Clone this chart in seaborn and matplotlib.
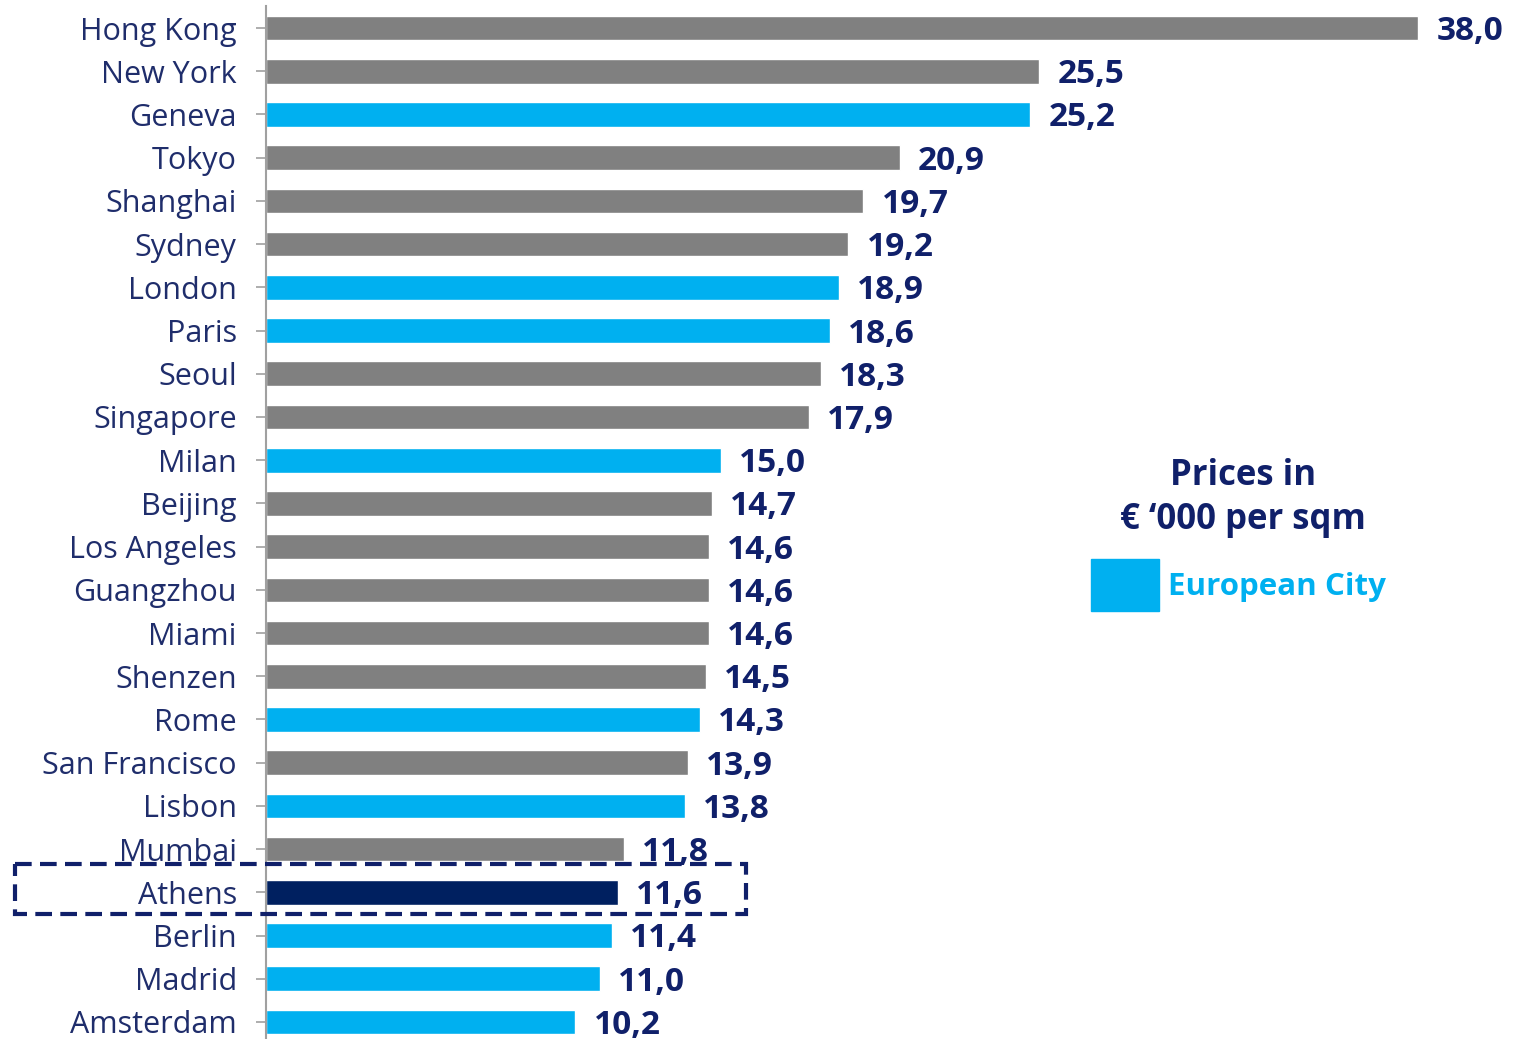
import matplotlib
matplotlib.use("Agg")
import matplotlib.pyplot as plt
import matplotlib.patches as mpatches
import seaborn as sns
import pandas as pd

cities = ["Hong Kong", "New York", "Geneva", "Tokyo", "Shanghai", "Sydney",
          "London", "Paris", "Seoul", "Singapore", "Milan", "Beijing",
          "Los Angeles", "Guangzhou", "Miami", "Shenzen", "Rome",
          "San Francisco", "Lisbon", "Mumbai", "Athens", "Berlin", "Madrid",
          "Amsterdam"]
prices = [38.0, 25.5, 25.2, 20.9, 19.7, 19.2, 18.9, 18.6, 18.3, 17.9, 15.0,
          14.7, 14.6, 14.6, 14.6, 14.5, 14.3, 13.9, 13.8, 11.8, 11.6, 11.4,
          11.0, 10.2]
group = ["other", "other", "europe", "other", "other", "other", "europe",
         "europe", "other", "other", "europe", "other", "other", "other",
         "other", "other", "europe", "other", "europe", "other", "athens",
         "europe", "europe", "europe"]

GREY = "#808080"
BLUE = "#00B0F0"
DARK = "#002060"
NAVY = "#10206A"
LABEL = "#1F2D6B"
group_colors = {"other": GREY, "europe": BLUE, "athens": DARK}

df = pd.DataFrame({"city": cities, "price": prices, "group": group})

sns.set_style("white")
plt.rcParams["font.family"] = ["Open Sans", "DejaVu Sans"]

fig = plt.figure(figsize=(15.32, 10.39), dpi=100)
ax = fig.add_axes([0.1736, -0.0044, 0.9655 - 0.1736, 0.9938 + 0.0044])

palette = {c: group_colors[g] for c, g in zip(cities, group)}
sns.barplot(data=df, x="price", y="city", hue="city", palette=palette,
            legend=False, width=0.57, orient="h", saturation=1, ax=ax)

ax.set_xlim(0, 40)
ax.set_ylim(23.5, -0.5)
ax.set_xlabel("")
ax.set_ylabel("")
ax.set_xticks([])
for s in ["top", "right", "bottom"]:
    ax.spines[s].set_visible(False)
ax.spines["left"].set_color("#A0A0A0")
ax.spines["left"].set_linewidth(1.5)
ax.tick_params(axis="y", left=True, direction="out", length=7, width=1.2,
               color="#A0A0A0", labelsize=22, labelcolor=LABEL, pad=14)

# value labels
for i, v in enumerate(prices):
    ax.text(v + 0.6, i + 0.08, f"{v:.1f}".replace(".", ","), va="center",
            ha="left", fontsize=24, fontweight="bold", color=NAVY)

# dashed box around Athens
idx = cities.index("Athens")
rect = mpatches.Rectangle((-8.28, idx - 0.66), 15.83 + 8.28, 1.16,
                          fill=False, edgecolor=NAVY, linewidth=3,
                          linestyle=(0, (4, 2)), clip_on=False, zorder=5)
ax.add_patch(rect)

# legend
fig.text(1243 / 1532, 1 - 476 / 1039, "Prices in", ha="center", va="center",
         fontsize=25, fontweight="bold", color=NAVY)
fig.text(1243 / 1532, 1 - 520 / 1039, "\u20ac \u2018000 per sqm", ha="center",
         va="center", fontsize=25, fontweight="bold", color=NAVY)
fig.patches.append(mpatches.Rectangle((1091 / 1532, 1 - 611 / 1039),
                                      68 / 1532, 52 / 1039, color=BLUE,
                                      transform=fig.transFigure, figure=fig))
fig.text(1168 / 1532, 1 - 587 / 1039, "European City", ha="left",
         va="center", fontsize=22.5, fontweight="bold", color=BLUE)

fig.savefig("out.png", dpi=100)
